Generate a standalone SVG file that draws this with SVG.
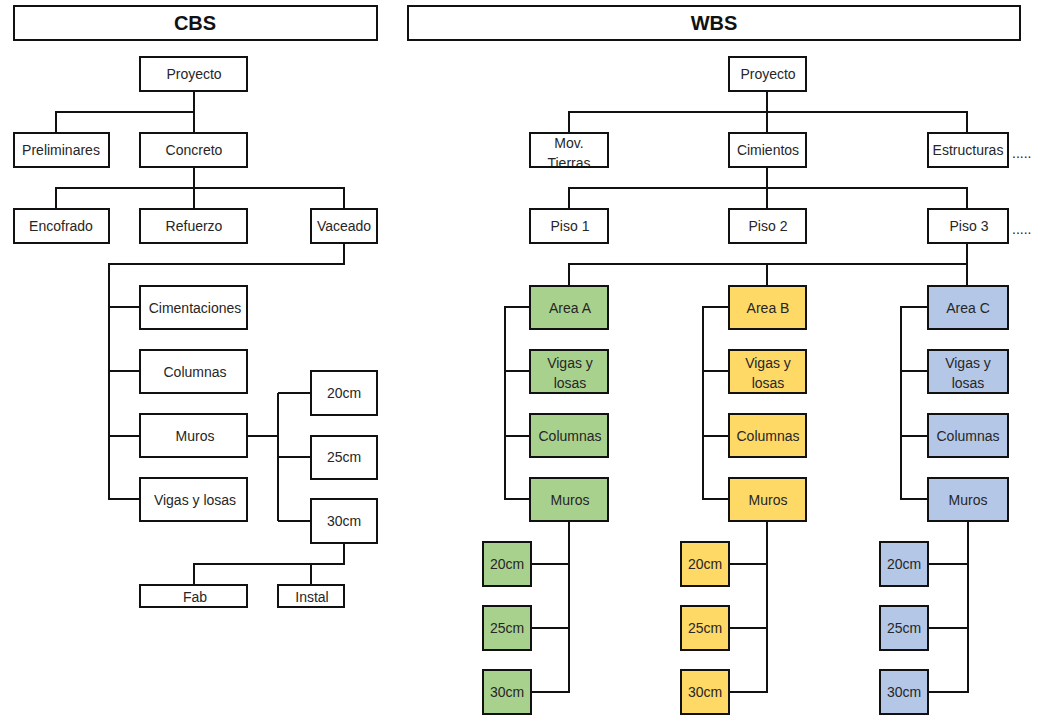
<svg xmlns="http://www.w3.org/2000/svg" width="1037" height="715" viewBox="0 0 1037 715">
  <style>
    .box { fill: #ffffff; stroke: #111111; stroke-width: 2; }
    .g { fill: #a9d18e; stroke: #111111; stroke-width: 2; }
    .y { fill: #ffd966; stroke: #111111; stroke-width: 2; }
    .b { fill: #b4c7e7; stroke: #111111; stroke-width: 2; }
    text { font-family: "Liberation Sans", Arial, sans-serif; font-size: 14px; fill: #262626; text-anchor: middle; }
    .title { font-size: 20px; font-weight: bold; fill: #111111; }
    .dots { text-anchor: start; }
    .wire { fill: none; stroke: #111111; stroke-width: 2; }
  </style>
  <defs>
    <clipPath id="movClip"><rect x="531" y="134" width="76" height="32"/></clipPath>
  </defs>
  <rect width="1037" height="715" fill="#ffffff"/>

  <!-- connectors -->
  <g id="connectors" class="wire">
    <!-- CBS tree -->
    <path d="M194 91 V133 M56 133 V112 H194"/>
    <path d="M194 167 V209 M56 209 V188 H344 V209"/>
    <path d="M344 243 V264 H109 V499 H140 M109 307 H140 M109 371 H140 M109 436 H140"/>
    <path d="M247 436 H278 M278 393 V521 M278 393 H311 M278 457 H311 M278 521 H311"/>
    <path d="M344 543 V564 H194 V585 M311 564 V585"/>
    <!-- WBS tree -->
    <path d="M767 91 V133 M569 133 V112 H967 V133"/>
    <path d="M767 167 V209 M569 209 V188 H967 V209"/>
    <path d="M967 243 V286 M569 286 V264 H967 M767 264 V286"/>
    <path d="M530 307 H505 V499 H530 M505 371 H530 M505 436 H530"/>
    <path d="M569 521 V692 H531 M569 564 H531 M569 628 H531"/>
    <path d="M729 307 H703 V499 H729 M703 371 H729 M703 436 H729"/>
    <path d="M767 521 V692 H729 M767 564 H729 M767 628 H729"/>
    <path d="M928 307 H901 V499 H928 M901 371 H928 M901 436 H928"/>
    <path d="M968 521 V692 H928 M968 564 H928 M968 628 H928"/>
  </g>

  <!-- titles -->
  <g id="cbs-title"><rect class="box" x="14" y="6" width="363" height="34"/><text class="title" x="195" y="30">CBS</text></g>
  <g id="wbs-title"><rect class="box" x="408" y="6" width="612" height="34"/><text class="title" x="714" y="30">WBS</text></g>

  <!-- CBS nodes -->
  <g id="cbs-proyecto"><rect class="box" x="140" y="57" width="107" height="34"/><text x="194" y="79">Proyecto</text></g>
  <g id="cbs-preliminares"><rect class="box" x="14" y="133" width="95" height="34"/><text x="61" y="155">Preliminares</text></g>
  <g id="cbs-concreto"><rect class="box" x="140" y="133" width="107" height="34"/><text x="194" y="155">Concreto</text></g>
  <g id="cbs-encofrado"><rect class="box" x="14" y="209" width="95" height="34"/><text x="61" y="231">Encofrado</text></g>
  <g id="cbs-refuerzo"><rect class="box" x="140" y="209" width="107" height="34"/><text x="194" y="231">Refuerzo</text></g>
  <g id="cbs-vaceado"><rect class="box" x="311" y="209" width="66" height="34"/><text x="344" y="231">Vaceado</text></g>
  <g id="cbs-cimentaciones"><rect class="box" x="140" y="286" width="107" height="43"/><text x="195" y="313">Cimentaciones</text></g>
  <g id="cbs-columnas"><rect class="box" x="140" y="350" width="107" height="43"/><text x="195" y="377">Columnas</text></g>
  <g id="cbs-muros"><rect class="box" x="140" y="414" width="107" height="43"/><text x="195" y="441">Muros</text></g>
  <g id="cbs-vigas"><rect class="box" x="140" y="478" width="107" height="43"/><text x="195" y="505">Vigas y losas</text></g>
  <g id="cbs-20cm"><rect class="box" x="311" y="371" width="66" height="44"/><text x="344" y="398">20cm</text></g>
  <g id="cbs-25cm"><rect class="box" x="311" y="436" width="66" height="43"/><text x="344" y="462">25cm</text></g>
  <g id="cbs-30cm"><rect class="box" x="311" y="499" width="66" height="44"/><text x="344" y="526">30cm</text></g>
  <g id="cbs-fab"><rect class="box" x="140" y="585" width="107" height="22"/><text x="195" y="602">Fab</text></g>
  <g id="cbs-instal"><rect class="box" x="278" y="585" width="66" height="22"/><text x="312" y="602">Instal</text></g>

  <!-- WBS nodes -->
  <g id="wbs-proyecto"><rect class="box" x="729" y="57" width="77" height="34"/><text x="768" y="79">Proyecto</text></g>
  <g id="wbs-mov"><rect class="box" x="530" y="133" width="78" height="34"/><g clip-path="url(#movClip)"><text x="569" y="148">Mov.</text><text x="569" y="168">Tierras</text></g></g>
  <g id="wbs-cimientos"><rect class="box" x="729" y="133" width="77" height="34"/><text x="768" y="155">Cimientos</text></g>
  <g id="wbs-estructuras"><rect class="box" x="928" y="133" width="80" height="34"/><text x="968" y="155">Estructuras</text><text class="dots" x="1012" y="158">.....</text></g>
  <g id="wbs-piso1"><rect class="box" x="530" y="209" width="78" height="34"/><text x="570" y="231">Piso 1</text></g>
  <g id="wbs-piso2"><rect class="box" x="729" y="209" width="77" height="34"/><text x="768" y="231">Piso 2</text></g>
  <g id="wbs-piso3"><rect class="box" x="928" y="209" width="80" height="34"/><text x="969" y="231">Piso 3</text><text class="dots" x="1012" y="234">.....</text></g>

  <!-- Area A -->
  <g id="a-area"><rect class="g" x="530" y="286" width="78" height="43"/><text x="570" y="313">Area A</text></g>
  <g id="a-vigas"><rect class="g" x="530" y="350" width="78" height="43"/><text x="570" y="368">Vigas y</text><text x="570" y="388">losas</text></g>
  <g id="a-columnas"><rect class="g" x="530" y="414" width="78" height="43"/><text x="570" y="441">Columnas</text></g>
  <g id="a-muros"><rect class="g" x="530" y="478" width="78" height="43"/><text x="570" y="505">Muros</text></g>
  <g id="a-20cm"><rect class="g" x="483" y="542" width="48" height="44"/><text x="507" y="569">20cm</text></g>
  <g id="a-25cm"><rect class="g" x="483" y="606" width="48" height="44"/><text x="507" y="633">25cm</text></g>
  <g id="a-30cm"><rect class="g" x="483" y="670" width="48" height="44"/><text x="507" y="697">30cm</text></g>

  <!-- Area B -->
  <g id="b-area"><rect class="y" x="729" y="286" width="77" height="43"/><text x="768" y="313">Area B</text></g>
  <g id="b-vigas"><rect class="y" x="729" y="350" width="77" height="43"/><text x="768" y="368">Vigas y</text><text x="768" y="388">losas</text></g>
  <g id="b-columnas"><rect class="y" x="729" y="414" width="77" height="43"/><text x="768" y="441">Columnas</text></g>
  <g id="b-muros"><rect class="y" x="729" y="478" width="77" height="43"/><text x="768" y="505">Muros</text></g>
  <g id="b-20cm"><rect class="y" x="681" y="542" width="48" height="44"/><text x="705" y="569">20cm</text></g>
  <g id="b-25cm"><rect class="y" x="681" y="606" width="48" height="44"/><text x="705" y="633">25cm</text></g>
  <g id="b-30cm"><rect class="y" x="681" y="670" width="48" height="44"/><text x="705" y="697">30cm</text></g>

  <!-- Area C -->
  <g id="c-area"><rect class="b" x="928" y="286" width="80" height="43"/><text x="968" y="313">Area C</text></g>
  <g id="c-vigas"><rect class="b" x="928" y="350" width="80" height="43"/><text x="968" y="368">Vigas y</text><text x="968" y="388">losas</text></g>
  <g id="c-columnas"><rect class="b" x="928" y="414" width="80" height="43"/><text x="968" y="441">Columnas</text></g>
  <g id="c-muros"><rect class="b" x="928" y="478" width="80" height="43"/><text x="968" y="505">Muros</text></g>
  <g id="c-20cm"><rect class="b" x="880" y="542" width="48" height="44"/><text x="904" y="569">20cm</text></g>
  <g id="c-25cm"><rect class="b" x="880" y="606" width="48" height="44"/><text x="904" y="633">25cm</text></g>
  <g id="c-30cm"><rect class="b" x="880" y="670" width="48" height="44"/><text x="904" y="697">30cm</text></g>
</svg>
